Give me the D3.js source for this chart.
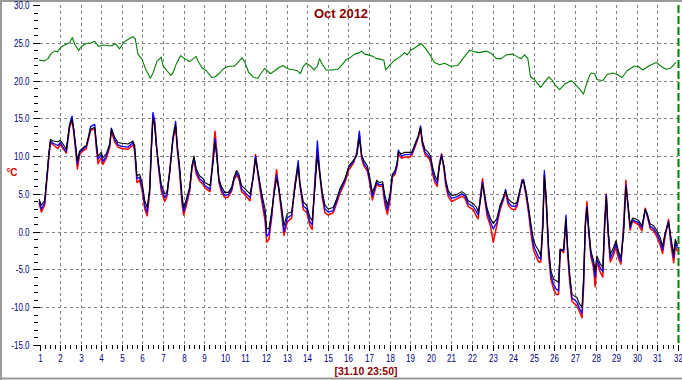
<!DOCTYPE html>
<html><head><meta charset="utf-8">
<script src="https://cdn.jsdelivr.net/npm/d3@7"></script>
<style>
html,body{margin:0;padding:0;background:#fff;}
svg{display:block;font-family:"Liberation Sans",Arial,sans-serif;}
</style></head><body>
<script>
// ---- data ----
const title = "Oct 2012";
const stampLabel = "[31.10 23:50]";
const unitLabel = "°C";
const yMajorTicks = [-15,-10,-5,0,5,10,15,20,25,30];
const xDayTicks = d3.range(1,33);

// outdoor series sample times (day of month, fractional)
const outTimes = [0.98,1.09,1.25,1.36,1.46,1.53,1.66,1.90,2.01,2.14,2.30,2.46,2.58,2.66,2.76,2.84,2.95,3.11,3.27,3.39,3.48,3.68,3.76,3.84,4.00,4.08,4.24,4.41,4.49,4.65,4.81,5.00,5.30,5.54,5.62,5.73,5.86,5.98,6.11,6.23,6.35,6.43,6.51,6.59,6.67,6.78,6.91,7.08,7.19,7.32,7.48,7.61,7.69,7.80,7.92,8.00,8.13,8.29,8.40,8.50,8.61,8.77,8.94,9.03,9.28,9.41,9.52,9.60,9.71,9.84,10.00,10.17,10.33,10.44,10.57,10.68,10.81,10.97,11.22,11.38,11.49,11.62,11.78,11.95,12.03,12.14,12.27,12.38,12.51,12.62,12.75,12.87,13.03,13.24,13.40,13.56,13.64,13.81,13.97,14.13,14.24,14.37,14.49,14.62,14.73,14.86,15.02,15.26,15.42,15.59,15.83,16.02,16.23,16.40,16.53,16.64,16.75,16.92,17.05,17.16,17.29,17.37,17.50,17.66,17.77,17.89,18.02,18.13,18.26,18.37,18.42,18.58,18.74,18.91,19.07,19.23,19.39,19.50,19.59,19.72,19.88,19.99,20.09,20.20,20.31,20.41,20.52,20.64,20.73,20.85,21.01,21.25,21.50,21.66,21.82,22.06,22.22,22.30,22.42,22.51,22.63,22.74,22.90,23.03,23.20,23.36,23.52,23.63,23.76,23.92,24.08,24.18,24.31,24.43,24.50,24.62,24.75,24.86,24.99,25.10,25.23,25.34,25.44,25.51,25.60,25.72,25.83,25.96,26.09,26.20,26.28,26.45,26.56,26.64,26.74,26.85,26.96,27.09,27.22,27.34,27.42,27.50,27.58,27.66,27.77,27.90,27.98,28.06,28.23,28.35,28.44,28.52,28.60,28.71,28.87,28.99,29.12,29.23,29.36,29.47,29.57,29.68,29.79,29.92,30.08,30.25,30.41,30.52,30.65,30.81,30.98,31.14,31.25,31.38,31.54,31.66,31.79,31.87,31.98];

const blackVals = [4.3,3.5,4.1,7.4,10.5,12.2,12.0,11.9,12.1,11.6,10.9,14.0,14.9,13.6,11.4,9.4,10.7,11.1,11.4,12.5,13.6,13.8,11.8,10.0,10.5,9.8,10.3,11.6,13.6,12.5,11.8,11.7,11.6,12.0,11.4,7.4,7.6,6.5,4.1,3.2,5.7,10.5,14.9,14.0,11.4,9.0,6.3,5.0,5.2,7.8,12.2,14.2,11.4,8.7,4.8,3.2,4.3,5.9,8.7,10.0,8.3,7.4,7.0,6.5,6.1,8.7,11.8,10.0,7.0,5.9,5.2,5.2,5.9,7.2,8.1,7.6,6.1,5.7,5.0,7.2,9.6,7.8,5.2,3.0,0.4,0.4,2.6,4.8,7.0,5.7,3.5,0.8,2.4,2.6,5.7,8.7,6.5,3.9,3.5,1.9,1.5,5.7,10.0,7.4,5.2,3.5,3.0,3.2,4.3,5.7,7.0,8.7,9.4,10.0,12.3,10.2,9.4,8.7,7.0,5.2,6.1,6.8,6.5,6.6,4.8,3.5,5.0,7.6,8.1,9.2,10.5,10.3,10.5,10.5,10.5,11.6,12.7,13.8,12.0,10.9,10.5,10.0,8.5,7.4,6.8,8.5,10.0,8.7,6.8,5.4,4.8,4.9,5.3,5.0,4.1,3.7,3.2,2.6,4.3,6.3,4.6,3.0,1.7,1.1,1.7,3.5,4.6,5.4,4.3,3.9,3.7,3.9,5.4,6.5,6.8,5.4,3.2,1.0,-1.2,-1.9,-2.5,-3.2,0.6,7.2,4.6,-2.1,-5.2,-6.3,-6.5,-6.7,-2.5,-2.3,1.5,-2.1,-5.6,-8.3,-8.5,-8.7,-9.6,-10.0,-5.8,0.6,3.2,0.6,-2.5,-3.8,-5.2,-3.2,-4.3,-4.7,0.6,4.6,0.6,-3.0,-2.1,-1.2,-2.7,-3.4,-0.3,5.9,3.7,0.8,1.8,1.7,1.5,0.8,3.0,2.3,1.0,0.8,0.1,-0.8,-1.9,-0.1,1.2,-0.8,-3.0,-1.0,-1.9];

const blueVals = [4.0,3.0,3.8,7.2,10.3,12.0,11.7,11.4,11.8,11.2,10.6,14.2,15.3,13.5,11.0,9.0,10.5,10.9,11.3,12.7,13.9,14.2,11.5,9.6,10.2,9.3,10.0,11.5,13.7,12.2,11.5,11.3,11.2,11.8,11.0,7.0,7.2,6.0,3.5,2.6,5.5,11.0,15.8,14.5,11.6,8.7,5.8,4.5,5.0,7.9,12.5,14.6,11.2,8.3,4.2,2.7,3.9,5.6,8.5,9.8,8.0,7.0,6.6,6.1,5.6,9.0,12.3,10.5,6.8,5.5,4.8,4.9,5.6,7.0,7.8,7.3,5.7,5.2,4.5,7.3,10.0,7.6,4.7,2.2,-0.6,-0.3,2.2,5.0,7.5,5.8,3.0,0.0,1.8,2.2,6.0,9.4,6.4,3.4,3.0,1.3,0.9,6.2,12.0,7.6,4.9,3.0,2.6,2.8,4.0,5.4,6.8,8.5,9.2,10.2,13.3,10.0,9.0,8.3,6.6,4.7,5.8,6.5,6.2,6.3,4.2,2.9,4.6,7.4,7.8,9.0,10.8,10.0,10.2,10.2,10.3,11.4,12.6,14.0,11.8,10.5,10.1,9.6,8.0,6.9,6.4,8.7,10.2,8.5,6.4,5.0,4.4,4.6,5.0,4.7,3.7,3.3,2.6,2.2,4.6,6.6,4.3,2.5,1.2,0.4,1.2,3.2,4.4,5.6,3.9,3.4,3.3,3.6,5.2,6.7,6.9,5.1,2.8,0.4,-1.9,-2.6,-3.4,-3.6,1.0,8.1,4.3,-2.6,-5.8,-7.0,-7.6,-7.8,-2.4,-2.5,2.2,-2.4,-6.0,-8.8,-9.0,-9.3,-10.2,-10.8,-6.5,0.8,3.3,0.4,-2.9,-4.3,-6.0,-3.6,-4.8,-5.3,1.0,4.9,0.3,-3.5,-2.6,-1.6,-3.1,-3.9,0.3,6.2,3.6,0.5,1.6,1.4,1.2,0.5,2.9,2.1,0.7,0.4,-0.3,-1.3,-2.4,-0.3,1.4,-1.3,-3.4,-1.5,-2.2];

const redVals = [3.8,2.6,3.5,6.9,10.0,11.8,11.5,11.0,11.6,11.0,10.4,13.8,14.8,13.2,10.6,8.3,10.2,10.7,11.0,12.4,13.4,13.6,11.0,9.0,9.8,8.9,9.7,11.2,13.3,11.9,11.2,11.0,10.9,11.5,10.7,6.5,6.8,5.5,3.0,2.1,5.2,11.5,15.4,14.8,11.8,8.4,5.4,4.0,4.7,8.0,12.3,13.8,10.9,7.9,3.7,2.2,3.5,5.3,8.3,9.5,7.6,6.7,6.3,5.8,5.3,9.5,13.3,11.0,6.5,5.2,4.5,4.6,5.4,6.8,7.5,7.0,5.3,4.9,4.1,7.5,10.2,7.2,4.2,1.5,-1.4,-1.0,1.8,5.3,8.2,5.5,2.5,-0.5,1.3,1.8,6.3,8.9,6.2,2.9,2.6,0.8,0.3,6.8,10.8,7.2,4.5,2.5,2.2,2.5,3.7,5.1,6.5,8.2,9.0,10.4,12.9,9.7,8.7,8.0,6.2,4.2,5.5,6.3,6.0,6.0,3.6,2.3,4.2,7.2,7.6,8.8,10.3,9.7,9.9,9.8,10.1,11.2,12.4,13.6,11.5,10.2,9.8,9.2,7.6,6.5,6.0,8.9,10.3,8.2,6.0,4.6,4.0,4.3,4.7,4.4,3.3,2.9,2.0,1.7,5.0,7.0,4.0,2.0,0.7,-1.4,0.8,2.9,4.2,5.2,3.5,3.0,2.9,3.3,5.0,6.9,6.6,4.8,2.4,-0.2,-2.5,-3.2,-4.0,-4.0,1.5,7.6,4.0,-3.2,-6.3,-7.6,-8.3,-8.3,-2.3,-2.8,1.8,-2.8,-6.6,-9.2,-9.5,-9.8,-10.6,-11.4,-7.2,1.2,4.0,0.1,-3.3,-4.8,-7.3,-4.0,-5.4,-6.0,1.6,5.0,0.0,-4.0,-3.1,-2.0,-3.6,-4.3,1.0,6.8,3.3,0.2,1.4,1.2,0.9,0.1,3.1,1.9,0.4,0.1,-0.7,-1.8,-2.9,-0.6,1.6,-1.8,-4.1,-2.0,-2.6];

// indoor (green) series
const inTimes = [0.98,1.25,1.41,1.57,1.74,1.87,2.03,2.22,2.46,2.59,2.71,2.90,3.03,3.27,3.52,3.68,3.87,4.08,4.32,4.52,4.68,4.89,5.10,5.33,5.54,5.65,5.78,5.98,6.14,6.38,6.51,6.70,6.91,6.99,7.16,7.37,7.48,7.64,7.85,8.05,8.29,8.42,8.61,8.69,8.89,9.10,9.37,9.53,9.75,9.91,10.15,10.47,10.64,10.83,10.96,11.15,11.41,11.61,11.74,11.93,12.21,12.42,12.61,12.82,12.98,13.14,13.39,13.52,13.66,13.79,13.95,14.12,14.33,14.49,14.60,14.76,14.92,15.17,15.49,15.73,15.90,16.06,16.30,16.54,16.65,16.78,16.95,17.19,17.35,17.59,17.72,17.80,18.00,18.24,18.48,18.73,18.85,19.02,19.21,19.37,19.53,19.70,19.91,20.18,20.42,20.67,20.96,21.31,21.61,21.88,22.12,22.37,22.69,22.93,23.18,23.42,23.66,23.98,24.23,24.39,24.55,24.71,24.84,25.04,25.33,25.52,25.73,25.88,26.04,26.25,26.49,26.82,26.98,27.22,27.41,27.54,27.71,27.79,27.95,28.08,28.35,28.56,28.84,29.05,29.28,29.53,29.86,30.05,30.29,30.62,30.94,31.18,31.43,31.67,31.80,31.90];
const inVals = [22.7,22.6,22.9,23.6,23.9,23.8,24.4,24.7,25.0,25.7,24.8,24.0,24.5,24.9,25.0,25.2,24.5,24.7,24.6,24.6,24.9,24.2,25.1,25.5,25.8,25.5,23.5,22.8,21.6,20.3,21.0,22.5,23.1,22.0,21.4,20.7,21.0,22.2,23.3,22.9,22.5,22.8,23.2,22.6,21.7,21.3,20.4,20.5,21.0,21.5,21.9,21.9,22.4,23.0,22.5,21.1,20.4,20.3,20.9,21.6,20.9,21.3,21.7,22.0,21.7,21.5,21.4,21.3,20.9,21.8,22.3,22.0,21.4,21.9,22.9,22.0,21.4,21.4,21.5,22.2,22.8,23.0,23.5,23.7,23.9,23.5,23.4,23.2,22.9,22.8,22.7,21.4,22.0,22.7,23.1,23.7,23.4,24.0,24.3,24.6,24.9,24.4,23.6,22.4,22.1,22.3,21.9,22.0,23.1,24.0,23.8,23.7,23.9,23.6,22.9,22.9,23.4,23.5,23.1,22.9,23.4,22.9,20.5,20.1,19.1,19.8,20.5,20.1,19.4,18.8,19.5,20.0,19.6,18.9,18.2,19.4,20.7,21.0,20.9,20.1,20.0,20.8,21.0,20.8,20.4,21.3,21.9,21.9,21.4,22.0,22.4,21.9,21.5,21.7,22.1,22.4];

// ---- drawing ----
const W = 682, H = 380;
const svg = d3.select("body").append("svg").attr("width", W).attr("height", H);

const x = d3.scaleLinear().domain([1, 32]).range([39.5, 678]);
const y = d3.scaleLinear().domain([-15, 30]).range([345, 5]);

// frame
svg.append("path").attr("d", `M1,${H} L1,1 L${W},1`).attr("fill","none").attr("stroke","#9a9a9a").attr("stroke-width",2);
svg.append("line").attr("x1",0).attr("x2",W).attr("y1",378.5).attr("y2",378.5).attr("stroke","#9a9a9a").attr("stroke-width",2);

const px = v => Math.round(v) + 0.5;

// grid
const grid = svg.append("g").attr("stroke","#808080").attr("stroke-width",1).attr("stroke-dasharray","3,3").attr("shape-rendering","crispEdges");
xDayTicks.filter(d => d > 1 && d < 32).forEach(d => {
  grid.append("line").attr("x1",px(x(d))).attr("x2",px(x(d))).attr("y1",5).attr("y2",345);
});
yMajorTicks.filter(v => v > -15 && v < 30).forEach(v => {
  grid.append("line").attr("x1",x(1)).attr("x2",x(32)).attr("y1",px(y(v))).attr("y2",px(y(v)));
});

// current time marker
svg.append("line").attr("x1",px(x(32))).attr("x2",px(x(32))).attr("y1",5).attr("y2",345)
  .attr("stroke","#008000").attr("stroke-width",2).attr("stroke-dasharray","8,3");

// lines
function drawSeries(times, vals, color, width){
  const pts = times.map((t,i) => [t, vals[i]]);
  const line = d3.line().x(d => x(d[0])).y(d => y(d[1]));
  svg.append("path").datum(pts).attr("d", line).attr("fill","none")
    .attr("stroke", color).attr("stroke-width", width).attr("stroke-linejoin","round");
}
drawSeries(inTimes, inVals, "#008000", 1.1);
drawSeries(outTimes, redVals, "#ff0000", 1.5);
drawSeries(outTimes, blueVals, "#0000ff", 1.3);
drawSeries(outTimes, blackVals, "#000000", 1.1);

// y axis
const sx = 0.8;
const yAxis = d3.axisLeft(y).tickValues(yMajorTicks).tickSize(7).tickPadding(3).tickFormat(d => d.toFixed(1));
const gy = svg.append("g").attr("transform", "translate(39.5,0)").call(yAxis);
gy.select(".domain").remove();
gy.selectAll(".tick line").attr("stroke","#000").attr("shape-rendering","crispEdges");
gy.selectAll(".tick text").attr("fill","#000080").attr("font-size",10)
  .attr("font-family",'"Liberation Sans",Arial,sans-serif')
  .attr("x", -10 / sx).attr("transform", `scale(${sx},1)`);
gy.selectAll(".tick").attr("transform", d => `translate(0,${px(y(d))})`);

const yMinor = d3.range(-15, 31, 1).filter(v => v % 5 !== 0);
const gym = svg.append("g").attr("transform","translate(38,0)").call(d3.axisLeft(y).tickValues(yMinor).tickSize(4).tickFormat(""));
gym.select(".domain").remove();
gym.selectAll(".tick line").attr("stroke","#000").attr("shape-rendering","crispEdges");
gym.selectAll(".tick").attr("transform", d => `translate(0,${px(y(d))})`);

// x axis
const xAxis = d3.axisBottom(x).tickValues(xDayTicks).tickSize(6).tickPadding(4).tickFormat(d => String(d));
const gx = svg.append("g").attr("transform","translate(0,345)").call(xAxis);
gx.select(".domain").remove();
gx.selectAll(".tick line").attr("stroke","#000").attr("shape-rendering","crispEdges");
gx.selectAll(".tick").attr("transform", d => `translate(${px(x(d))},0)`);
gx.selectAll(".tick text").attr("fill","#000080").attr("font-size",10)
  .attr("font-family",'"Liberation Sans",Arial,sans-serif')
  .attr("transform", `scale(${sx},1)`);

const xMinor = d3.range(1, 32, 0.25).filter(d => d % 1 !== 0);
const gxm = svg.append("g").attr("transform","translate(0,345)").call(d3.axisBottom(x).tickValues(xMinor).tickSize(4).tickFormat(""));
gxm.select(".domain").remove();
gxm.selectAll(".tick line").attr("stroke","#000").attr("shape-rendering","crispEdges");
gxm.selectAll(".tick").attr("transform", d => `translate(${px(x(d))},0)`);

// texts
svg.append("text").attr("x",341).attr("y",18).attr("text-anchor","middle")
  .attr("font-size",13).attr("font-weight","bold").attr("fill","#8b0000").text(title);
svg.append("text").attr("x",366).attr("y",375).attr("text-anchor","middle")
  .attr("font-size",10.5).attr("font-weight","bold").attr("fill","#8b0000").text(stampLabel);
svg.append("text").attr("x",12).attr("y",176).attr("text-anchor","middle")
  .attr("font-size",10).attr("font-weight","bold").attr("fill","#e00000").text(unitLabel);
</script>
</body></html>
